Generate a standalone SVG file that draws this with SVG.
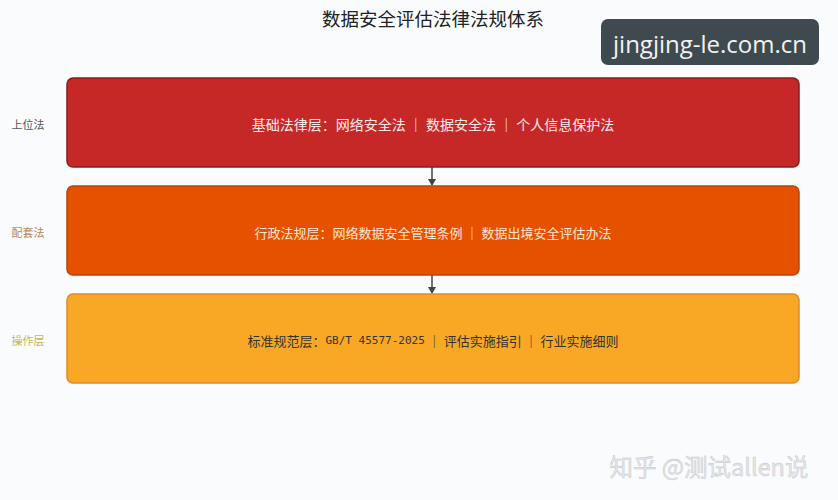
<svg xmlns="http://www.w3.org/2000/svg" width="838" height="500" viewBox="0 0 838 500">
<defs>
<style>
.t{font-family:"Noto Sans CJK SC","Noto Sans",sans-serif;}
.box{stroke-width:1.5;}
.bt{font-size:13px;text-anchor:middle;dominant-baseline:central;}
.bt14{font-size:14px;}
.lab{font-size:11px;text-anchor:middle;dominant-baseline:central;}
.mono{font-family:"DejaVu Sans Mono","Liberation Mono",monospace;font-size:11px;}
.conn{stroke:#444;stroke-width:1.5;fill:none;}
</style>
<marker id="ah" markerWidth="8" markerHeight="8" refX="6" refY="4" orient="auto" markerUnits="userSpaceOnUse">
<path d="M0,0 L7,4 L0,8 Z" fill="#444"/>
</marker>
</defs>
<rect width="838" height="500" fill="#f9fbfd"/>
<text class="t" x="433" y="18" font-size="18.5" fill="#222" text-anchor="middle" dominant-baseline="central">数据安全评估法律法规体系</text>
<g id="watermark-url">
<rect x="601" y="19" width="218" height="46" rx="7" fill="#3e4a50"/>
<text x="710" y="43" font-family="'Open Sans','DejaVu Sans',sans-serif" font-size="24" fill="#f2f2f2" text-anchor="middle" dominant-baseline="central">jingjing-le.com.cn</text>
</g>
<g id="connectors">
<line class="conn" x1="432" y1="167" x2="432" y2="185" marker-end="url(#ah)"/>
<line class="conn" x1="432" y1="275" x2="432" y2="293" marker-end="url(#ah)"/>
</g>
<g id="layer1">
<rect class="box" x="67" y="78" width="732" height="89" rx="6" fill="#c62828" stroke="#8a1c1c"/>
<text class="t bt bt14" x="433" y="124" fill="#fbecea">基础法律层：网络安全法 ｜ 数据安全法 ｜ 个人信息保护法</text>
<text class="t lab" x="28" y="124" fill="#555">上位法</text>
</g>
<g id="layer2">
<rect class="box" x="67" y="186" width="732" height="89" rx="6" fill="#e65100" stroke="#b5450a"/>
<text class="t bt" x="433" y="232" fill="#fbe6d6">行政法规层：网络数据安全管理条例 ｜ 数据出境安全评估办法</text>
<text class="t lab" x="28" y="232" fill="#b5875a">配套法</text>
</g>
<g id="layer3">
<rect class="box" x="67" y="294" width="732" height="89" rx="6" fill="#f9a825" stroke="#e58a1f"/>
<text class="t bt" x="433" y="340" fill="#333">标准规范层：<tspan class="mono">GB/T 45577-2025</tspan> ｜ 评估实施指引 ｜ 行业实施细则</text>
<text class="t lab" x="28" y="340" fill="#c9b45e">操作层</text>
</g>
<text class="t" x="709" y="466" font-size="23.5" fill="#e4e6e8" stroke="#c4c6c8" stroke-width="0.4" text-anchor="middle" dominant-baseline="central">知乎 @测试allen说</text>
</svg>
